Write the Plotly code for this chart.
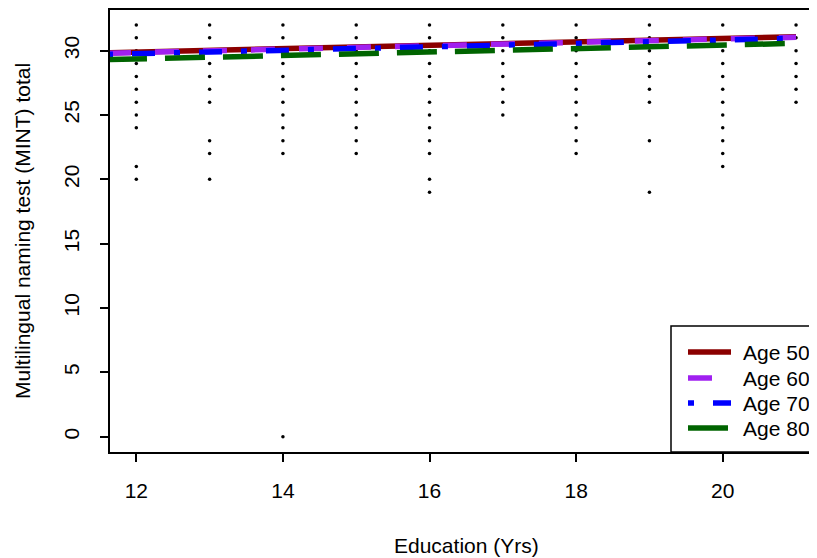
import plotly.graph_objects as go

# ---- data ----
edu_years = [12, 13, 14, 15, 16, 17, 18, 19, 20, 21]
mint_scores = {
    12: [32, 31, 30, 29, 28, 27, 26, 25, 24, 21, 20],
    13: [32, 31, 30, 29, 28, 27, 26, 23, 22, 20],
    14: [32, 31, 30, 29, 28, 27, 26, 25, 24, 23, 22, 0],
    15: [32, 31, 30, 29, 28, 27, 26, 25, 24, 23, 22],
    16: [32, 31, 30, 29, 28, 27, 26, 25, 24, 23, 22, 20, 19],
    17: [32, 31, 30, 29, 28, 27, 26, 25],
    18: [32, 31, 30, 29, 28, 27, 26, 25, 24, 23, 22],
    19: [32, 31, 30, 29, 28, 27, 26, 23, 19],
    20: [32, 31, 30, 29, 28, 27, 26, 25, 24, 23, 22, 21],
    21: [32, 31, 30, 29, 28, 27, 26],
}

# fitted lines (predicted MINT total at the line end points)
line_edu = [11.6, 21]
age_labels = ["Age 50", "Age 60", "Age 70", "Age 80"]
age50_fit = [29.84, 31.08]
age60_fit = [29.80, 31.04]
age70_fit = [29.71, 30.96]
age80_fit = [29.30, 30.57]

x_ticks = [12, 14, 16, 18, 20]
y_ticks = [0, 5, 10, 15, 20, 25, 30]

FONT = "Liberation Sans, Arial, Helvetica, sans-serif"
FS = 21

# figure geometry (page body adds an 8px offset)
W, H = 809, 550
ML, MT = 102, 2
PW, PH = 707, 442


def px(xf):
    return (xf - ML) / PW


def py(yf):
    return (MT + PH - yf) / PH


pts_x, pts_y = [], []
for e in edu_years:
    for s in mint_scores[e]:
        pts_x.append(e)
        pts_y.append(s)

fig = go.Figure()
fig.add_trace(go.Scatter(
    x=pts_x, y=pts_y, mode="markers",
    marker=dict(size=3.5, color="black", line=dict(width=0)),
    showlegend=False, hoverinfo="skip"))

styles = [
    (age50_fit, "#8B0000", "solid"),
    (age60_fit, "#A020F0", "24px,24px"),
    (age70_fit, "#0000FF", "6px,19px,23px,19px"),
    (age80_fit, "#006400", "40px,18px"),
]
for lab, (vals, col, dash) in zip(age_labels, styles):
    fig.add_trace(go.Scatter(
        x=line_edu, y=vals, mode="lines", name=lab, showlegend=False,
        line=dict(color=col, width=5.5, dash=dash)))

# legend box (bottom-right, R style)
shapes = [dict(type="rect", xref="paper", yref="paper",
               x0=px(663), x1=px(830), y0=py(444), y1=py(318),
               line=dict(color="black", width=1.5), fillcolor="white",
               layer="above")]
annotations = []
row_y = [344, 370, 395, 420]
for lab, (vals, col, dash), ry in zip(age_labels, styles, row_y):
    shapes.append(dict(type="line", xref="paper", yref="paper",
                       x0=px(680), x1=px(723), y0=py(ry), y1=py(ry),
                       line=dict(color=col, width=5.5, dash=dash),
                       layer="above"))
    annotations.append(dict(text=lab, xref="paper", yref="paper",
                            x=px(734), y=py(ry), xanchor="left",
                            yanchor="middle", showarrow=False,
                            borderpad=0, font=dict(size=FS)))

annotations += [
    dict(text="Education (Yrs)", xref="x", x=16.5, yref="paper", y=0,
         yshift=-93, yanchor="middle", xanchor="center",
         showarrow=False, font=dict(size=FS)),
    dict(text="Multilingual naming test (MINT) total", xref="paper", x=0,
         xshift=-88, yref="paper", y=0.5, textangle=-90,
         xanchor="center", yanchor="middle",
         showarrow=False, font=dict(size=FS)),
]

fig.update_layout(
    width=W, height=H,
    margin=dict(l=ML, r=W - ML - PW, t=MT, b=H - MT - PH, pad=0),
    paper_bgcolor="white", plot_bgcolor="white",
    font=dict(family=FONT, size=FS, color="black"),
    showlegend=False,
    shapes=shapes,
    annotations=annotations,
)
fig.update_xaxes(range=[11.641, 21.286], tickvals=x_ticks, ticks="outside",
                 ticklen=8, tickwidth=1.5, tickcolor="black",
                 showline=True, linecolor="black", linewidth=2, mirror=True,
                 showgrid=False, zeroline=False, ticklabelstandoff=11)
fig.update_yaxes(range=[-1.19, 33.16], tickvals=y_ticks, ticks="outside",
                 ticklen=8, tickwidth=1.5, tickcolor="black", tickangle=-90,
                 showline=True, linecolor="black", linewidth=2, mirror=False,
                 showgrid=False, zeroline=False, ticklabelstandoff=13)

fig.write_html("out.html")
